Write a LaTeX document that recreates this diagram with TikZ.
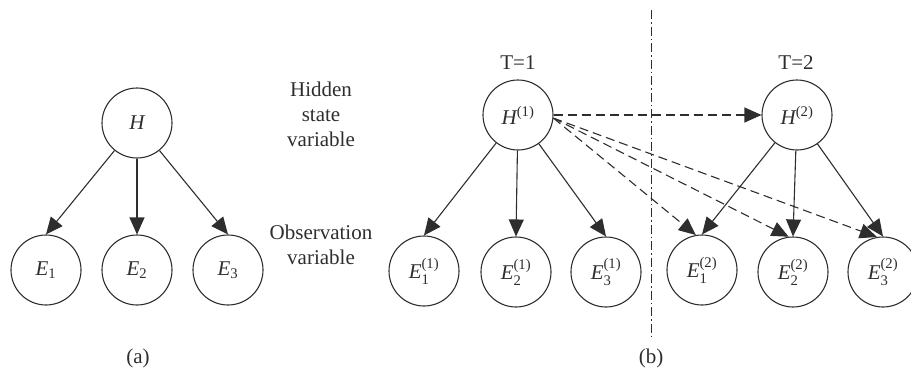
\documentclass[tikz,border=0pt]{standalone}
\usepackage{amsmath}
\usepackage{fontspec}
\setmainfont{Liberation Serif}
\usetikzlibrary{arrows.meta}
\definecolor{ink}{HTML}{2E2E2E}
\tikzset{
  var/.style={circle, draw=ink, line width=1.1pt, minimum size=70pt, inner sep=0pt, font=\fontsize{21}{25}\selectfont, text=ink},
  lbl/.style={align=center, font=\fontsize{21}{25}\selectfont, text=ink},
  arr/.style={draw=ink, line width=1.1pt, -{Triangle[length=17pt,width=15pt]}},
  darr/.style={arr, dash pattern=on 9pt off 5pt},
  divider/.style={draw=ink, line width=0.9pt, dash pattern=on 9pt off 3pt on 1.5pt off 3pt}
}
\begin{document}
\begin{tikzpicture}[x=1pt,y=-1pt]
\useasboundingbox (0,0) rectangle (911,378);
% (a)
\node[var] (H) at (137,123) {$\textit{H}$};
\node[var] (E1) at (46,270) {$\textit{E}_{\textup{1}}$};
\node[var] (E2) at (137,270) {$\textit{E}_{\textup{2}}$};
\node[var] (E3) at (228,270) {$\textit{E}_{\textup{3}}$};
\draw[arr] (H) -- (E1.north);
\draw[arr] (H) -- (E2.north);
\draw[arr] (H) -- (E3.north);
\node[lbl] (la) at (138,358) {(a)};
% labels
\node[lbl] (hid) at (321,114) {Hidden\\state\\variable};
\node[lbl] (obs) at (321,245) {Observation\\variable};
% (b) T=1
\node[lbl] (t1) at (518,63) {T=1};
\node[var] (H1) at (518,115) {$\textit{H}^{\textup{(1)}}$};
\node[var] (E11) at (424,271) {$\textit{E}_{\textup{1}}^{\textup{(1)}}$};
\node[var] (E21) at (516,272) {$\textit{E}_{\textup{2}}^{\textup{(1)}}$};
\node[var] (E31) at (606,272) {$\textit{E}_{\textup{3}}^{\textup{(1)}}$};
\draw[arr] (H1) -- (E11.north);
\draw[arr] (H1) -- (E21.north);
\draw[arr] (H1) -- (E31.north);
% divider
\coordinate (dtop) at (651,10);
\coordinate (dbot) at (651,338);
\draw[divider] (dtop) -- (dbot);
% T=2
\node[lbl] (t2) at (796,63) {T=2};
\node[var] (H2) at (797,115) {$\textit{H}^{\textup{(2)}}$};
\node[var] (E12) at (702,270) {$\textit{E}_{\textup{1}}^{\textup{(2)}}$};
\node[var] (E22) at (793,272) {$\textit{E}_{\textup{2}}^{\textup{(2)}}$};
\node[var] (E32) at (883,272) {$\textit{E}_{\textup{3}}^{\textup{(2)}}$};
\draw[arr] (H2) -- (E12.north);
\draw[arr] (H2) -- (E22.north);
\draw[arr] (H2) -- (E32.north);
% temporal dashed arrows
\draw[darr] (H1.east) -- (H2.west);
\draw[darr] (H1.-5) -- (E12.100);
\draw[darr] (H1.-5) -- (E22.97);
\draw[darr] (H1.-5) -- (E32.100);
\node[lbl] (lb) at (651,358) {(b)};
\end{tikzpicture}
\end{document}
